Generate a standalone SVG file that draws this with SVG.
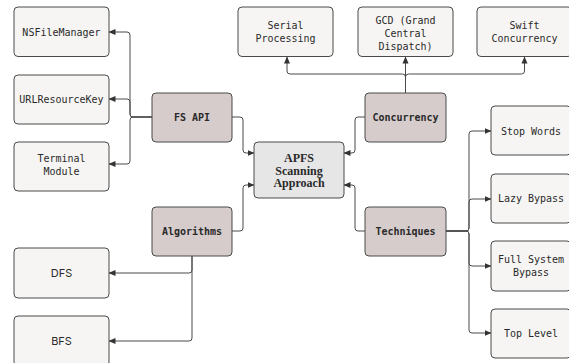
<svg xmlns="http://www.w3.org/2000/svg" width="569" height="363" viewBox="0 0 569 363">
  <style>
    .leaf rect { fill: #f6f5f3; stroke: #4a4a4a; stroke-width: 1; }
    .group rect { fill: #d6cccc; stroke: #4a4a4a; stroke-width: 1; }
    .root rect { fill: #e6e6e6; stroke: #4a4a4a; stroke-width: 1; }
    text { text-anchor: middle; fill: #2a2a2a; }
    .mono { font-family: "DejaVu Sans Mono", "Liberation Mono", monospace; font-size: 10px; }
    .monob { font-family: "DejaVu Sans Mono", "Liberation Mono", monospace; font-size: 10px; font-weight: bold; }
    .sans { font-family: Inter, "Liberation Sans", sans-serif; font-size: 11px; }
    .serif { font-family: "Liberation Serif", "DejaVu Serif", serif; font-size: 12px; font-weight: bold; }
    #edges path { fill: none; stroke: #4a4a4a; stroke-width: 1; marker-end: url(#arrow); }
  </style>
  <defs>
    <marker id="arrow" markerUnits="userSpaceOnUse" markerWidth="7" markerHeight="7" refX="6.5" refY="3.5" orient="auto">
      <path d="M0,0.5 L7,3.5 L0,6.5 z" fill="#333"/>
    </marker>
  </defs>
  <rect width="569" height="363" fill="#ffffff"/>

  <g id="edges">
    <path d="M152,117 H133 Q130,117 130,114 V35 Q130,32 127,32 H109"/>
    <path d="M152,117 H133 Q130,117 130,114 V102 Q130,99 127,99 H109"/>
    <path d="M152,117 H133 Q130,117 130,120 V161 Q130,164 127,164 H109"/>
    <path d="M232,117 H240 Q243,117 243,120 V150 Q243,153 246,153 H254"/>
    <path d="M232,231 H240 Q243,231 243,228 V188 Q243,185 246,185 H254"/>
    <path d="M365,117 H358 Q355,117 355,120 V150 Q355,153 352,153 H344"/>
    <path d="M365,231 H358 Q355,231 355,228 V188 Q355,185 352,185 H344"/>
    <path d="M192,256 V270 Q192,273 189,273 H109"/>
    <path d="M192,256 V338 Q192,341 189,341 H109"/>
    <path d="M405.5,93 V77 Q405.5,74 402.5,74 H290 Q287,74 287,71 V57"/>
    <path d="M405.5,93 V57"/>
    <path d="M405.5,93 V77 Q405.5,74 408.5,74 H521.5 Q524.5,74 524.5,71 V57"/>
    <path d="M446,231 H466 Q469,231 469,228 V134 Q469,131 472,131 H491"/>
    <path d="M446,231 H466 Q469,231 469,228 V202 Q469,199 472,199 H491"/>
    <path d="M446,231 H466 Q469,231 469,234 V263 Q469,266 472,266 H491"/>
    <path d="M446,231 H466 Q469,231 469,234 V330 Q469,333 472,333 H491"/>
  </g>

  <g id="nsfilemanager" class="leaf">
    <rect x="14" y="7" width="95" height="49.5" rx="4"/>
    <text class="mono" x="61.5" y="35.5">NSFileManager</text>
  </g>
  <g id="urlresourcekey" class="leaf">
    <rect x="14" y="75" width="95" height="49" rx="4"/>
    <text class="mono" x="61.5" y="103">URLResourceKey</text>
  </g>
  <g id="terminal-module" class="leaf">
    <rect x="14" y="142" width="95" height="49" rx="4"/>
    <text class="mono" x="61.5" y="162">Terminal</text>
    <text class="mono" x="61.5" y="175">Module</text>
  </g>
  <g id="dfs" class="leaf">
    <rect x="14" y="248" width="95" height="50" rx="4"/>
    <text class="sans" x="61.5" y="277">DFS</text>
  </g>
  <g id="bfs" class="leaf">
    <rect x="14" y="316" width="95" height="50" rx="4"/>
    <text class="sans" x="61.5" y="345">BFS</text>
  </g>

  <g id="fs-api" class="group">
    <rect x="152" y="93" width="80" height="49" rx="4"/>
    <text class="monob" x="192" y="121">FS API</text>
  </g>
  <g id="algorithms" class="group">
    <rect x="152" y="207" width="80" height="49" rx="4"/>
    <text class="monob" x="192" y="235">Algorithms</text>
  </g>

  <g id="apfs" class="root">
    <rect x="254" y="142" width="90" height="56" rx="4"/>
    <text class="serif" x="299" y="162">APFS</text>
    <text class="serif" x="299" y="174.5">Scanning</text>
    <text class="serif" x="299" y="187">Approach</text>
  </g>

  <g id="concurrency" class="group">
    <rect x="365" y="93" width="81" height="49" rx="4"/>
    <text class="monob" x="405.5" y="121">Concurrency</text>
  </g>
  <g id="techniques" class="group">
    <rect x="365" y="207" width="81" height="49" rx="4"/>
    <text class="monob" x="405.5" y="235">Techniques</text>
  </g>

  <g id="serial-processing" class="leaf">
    <rect x="238" y="7" width="95" height="49.5" rx="4"/>
    <text class="mono" x="285.5" y="29">Serial</text>
    <text class="mono" x="285.5" y="42">Processing</text>
  </g>
  <g id="gcd" class="leaf">
    <rect x="358" y="7" width="95" height="49.5" rx="4"/>
    <text class="mono" x="405.5" y="24">GCD (Grand</text>
    <text class="mono" x="405.5" y="37">Central</text>
    <text class="mono" x="405.5" y="50">Dispatch)</text>
  </g>
  <g id="swift-concurrency" class="leaf">
    <rect x="477" y="7" width="95" height="49.5" rx="4"/>
    <text class="mono" x="524.5" y="29">Swift</text>
    <text class="mono" x="524.5" y="42">Concurrency</text>
  </g>

  <g id="stop-words" class="leaf">
    <rect x="491" y="106" width="80" height="49" rx="4"/>
    <text class="mono" x="531" y="134.5">Stop Words</text>
  </g>
  <g id="lazy-bypass" class="leaf">
    <rect x="491" y="174" width="80" height="49" rx="4"/>
    <text class="mono" x="531" y="202">Lazy Bypass</text>
  </g>
  <g id="full-system-bypass" class="leaf">
    <rect x="491" y="241" width="80" height="50" rx="4"/>
    <text class="mono" x="531" y="263">Full System</text>
    <text class="mono" x="531" y="276">Bypass</text>
  </g>
  <g id="top-level" class="leaf">
    <rect x="491" y="309" width="80" height="49" rx="4"/>
    <text class="mono" x="531" y="337">Top Level</text>
  </g>
</svg>
